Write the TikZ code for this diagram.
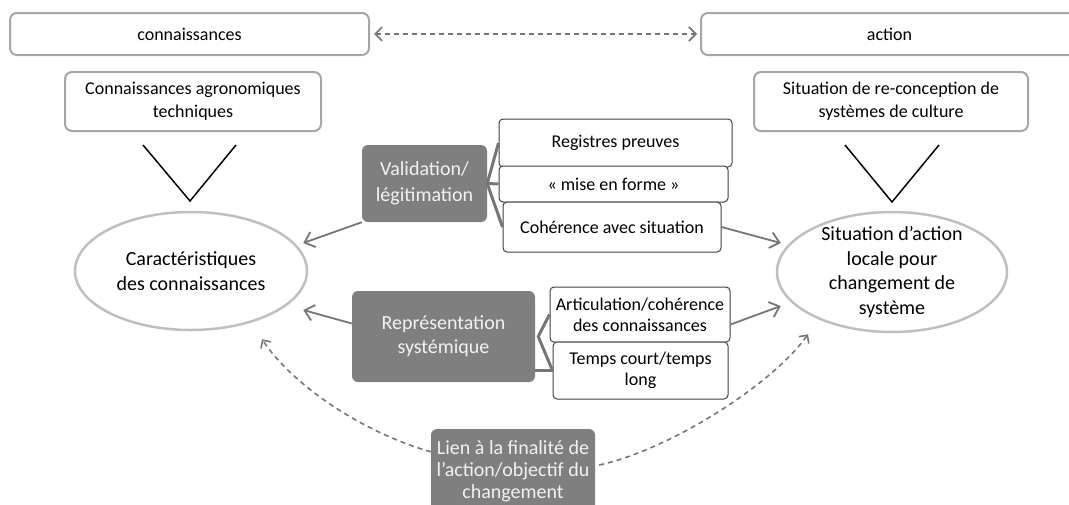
\documentclass[tikz,border=0pt]{standalone}
\usepackage{fontspec}
\setmainfont{Carlito}
\usetikzlibrary{shapes.geometric, arrows.meta, calc}
\definecolor{boxgray}{RGB}{127, 127, 127}
\definecolor{framegray}{RGB}{166, 166, 166}
\definecolor{ovalgray}{RGB}{191, 191, 191}
\definecolor{arrowgray}{RGB}{118, 118, 118}
\definecolor{textlight}{RGB}{242, 242, 242}
\tikzset{
    roundbox/.style={draw=framegray, line width=2pt, rounded corners=7pt, fill=white, align=center, inner sep=0pt, font=\fontsize{18}{23}\selectfont},
    darkbox/.style={fill=boxgray, rounded corners=6pt, text=textlight, align=center, inner sep=0pt, font=\fontsize{20}{24}\selectfont},
    itembox/.style={draw=black!75, line width=1pt, rounded corners=4pt, fill=white, align=center, inner sep=0pt, font=\fontsize{18}{21}\selectfont},
    oval/.style={ellipse, draw=ovalgray, line width=2.5pt, align=center, inner sep=0pt, font=\fontsize{20}{24.5}\selectfont},
    ovaltext/.style={align=center, inner sep=0pt, font=\fontsize{20}{24.5}\selectfont},
    flowarrow/.style={-{Straight Barb[length=9pt, width=16pt]}, draw=arrowgray, line width=1.8pt},
    linkarrow/.style={-{Straight Barb[length=6pt, width=12pt]}, draw=arrowgray, line width=1.6pt, dash pattern=on 5pt off 4pt},
    twoway/.style={linkarrow, {Straight Barb[length=7pt, width=14pt]}-{Straight Barb[length=7pt, width=14pt]}},
    bracket/.style={draw=arrowgray, line width=3pt},
    vmark/.style={draw=black, line width=1.5pt},
}
\begin{document}
\begin{tikzpicture}[x=1pt, y=-1pt]
    \useasboundingbox (0, 0) rectangle (1069, 504);

    % === top row ===
    \node[roundbox, minimum width=359pt, minimum height=42pt] (conn) at (189.5, 34) {connaissances};
    \node[roundbox, minimum width=377pt, minimum height=42pt] (act) at (889.5, 34) {action};
    \draw[twoway, shorten <=4pt, shorten >=3pt] (conn) -- (act);

    \node[roundbox, minimum width=256pt, minimum height=59pt] (agro) at (193, 101.5) {Connaissances agronomiques\\techniques};
    \node[roundbox, minimum width=274pt, minimum height=59pt] (situ) at (891, 101.5) {Situation de re-conception de\\systèmes de culture};

    % V marks
    \draw[vmark] (143, 145) -- (190, 201) -- (236, 145);
    \draw[vmark] (845, 145) -- (892, 202) -- (939, 145);

    % === ellipses ===
    \node[oval, minimum width=232pt, minimum height=118pt] (carac) at (191, 271) {Caractéristiques\\des connaissances};
    \node[oval, minimum width=230pt, minimum height=120pt] (sita) at (892, 272) {};
    \node[ovaltext] at (sita) {Situation d’action\\locale pour\\changement de\\système};

    % === validation ===
    \node[darkbox, minimum width=125pt, minimum height=77pt] (valid) at (424.5, 183.5) {Validation/\\[2pt]légitimation};
    \node[itembox, minimum width=233pt, minimum height=48pt] (reg) at (615.5, 143) {Registres preuves};
    \node[itembox, minimum width=229pt, minimum height=36pt] (mise) at (613.5, 184) {« mise en forme »};
    \node[itembox, minimum width=218pt, minimum height=50pt] (coh) at (612, 227) {Cohérence avec situation};
    \draw[bracket] (reg.west) -- (valid.east) -- (coh.west);
    \draw[bracket] (valid.east) -- (mise.west);

    % === representation ===
    \node[darkbox, minimum width=183pt, minimum height=91pt] (rep) at (443.5, 336.5) {Représentation\\systémique};
    \node[itembox, minimum width=180pt, minimum height=55pt] (art) at (640, 314.5) {Articulation/cohérence\\des connaissances};
    \node[itembox, minimum width=175pt, minimum height=57pt] (temps) at (640.5, 370.5) {Temps court/temps\\long};
    \draw[bracket] (art.west) -- ([xshift=3pt]rep.east) -- (temps.west);
    \draw[bracket] (rep.south east |- temps.west) -- (temps.west);

    % arrows to the ellipses
    \draw[flowarrow] (valid.south west) -- ($(carac.east)+(-5, -28)$);
    \draw[flowarrow] ([yshift=13pt]rep.west) -- ($(carac.east)+(-5, 39)$);
    \draw[flowarrow] (coh.east) -- ($(sita.west)+(5, -29)$);
    \draw[flowarrow] ([yshift=-10pt]art.east) -- ($(sita.west)+(5, 34)$);

    % === finality ===
    \node[darkbox, minimum width=164pt, minimum height=84pt, font=\fontsize{20}{22}\selectfont] (lien) at (513, 471) {Lien à la finalité de\\l’action/objectif du\\changement};
    \draw[linkarrow] ([yshift=-23pt]lien.north west) .. controls +(-70, -20) and +(30, 45) .. ($(carac.south)+(71, 8)$);
    \draw[linkarrow] ([yshift=6pt, xshift=4pt]lien.east) .. controls +(70, -15) and +(-35, 50) .. ($(sita.south)+(-84, 1)$);
\end{tikzpicture}
\end{document}
